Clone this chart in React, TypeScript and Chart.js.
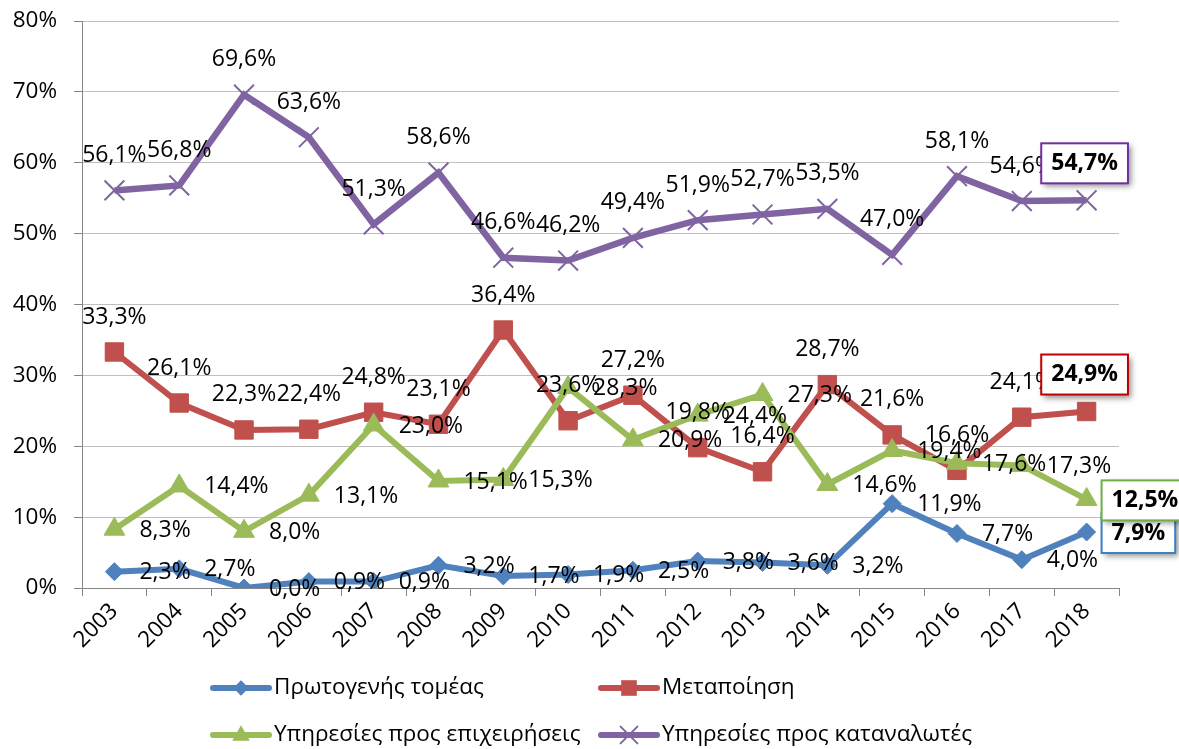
import React, { useEffect, useRef } from 'react';
import { Chart, registerables } from 'chart.js';

Chart.register(...registerables);

const years = ['2003', '2004', '2005', '2006', '2007', '2008', '2009', '2010', '2011', '2012', '2013', '2014', '2015', '2016', '2017', '2018'];
const primarySector = [2.3, 2.7, 0.0, 0.9, 0.9, 3.2, 1.7, 1.9, 2.5, 3.8, 3.6, 3.2, 11.9, 7.7, 4.0, 7.9];
const manufacturing = [33.3, 26.1, 22.3, 22.4, 24.8, 23.1, 36.4, 23.6, 27.2, 19.8, 16.4, 28.7, 21.6, 16.6, 24.1, 24.9];
const businessServices = [8.3, 14.4, 8.0, 13.1, 23.0, 15.1, 15.3, 28.3, 20.9, 24.4, 27.3, 14.6, 19.4, 17.6, 17.3, 12.5];
const consumerServices = [56.1, 56.8, 69.6, 63.6, 51.3, 58.6, 46.6, 46.2, 49.4, 51.9, 52.7, 53.5, 47.0, 58.1, 54.6, 54.7];
const seriesNames = ['Πρωτογενής τομέας', 'Μεταποίηση', 'Υπηρεσίες προς επιχειρήσεις', 'Υπηρεσίες προς καταναλωτές'];
const yMin = 0;
const yMax = 80;
const yStep = 10;

const FONT = '"Open Sans", "Noto Sans", sans-serif';
const colors = ['#4F81BD', '#C0504D', '#9BBB59', '#8064A2'];
const boxColors = ['#3F7FC6', '#C00000', '#70AD47', '#7030A0'];
const pointStyles = ['rectRot', 'rect', 'triangle', 'crossRot'];
const pointRadii = [9, 13, 12, 14];
const lineWidths = [6, 6, 6, 6.5];
const labelPlacement = ['right', 'above', 'right', 'above'];

const fmt = (v: number) => v.toFixed(1).replace('.', ',') + '%';

function drawMarker(ctx: CanvasRenderingContext2D, style: string, x: number, y: number, r: number, color: string) {
  ctx.save();
  ctx.fillStyle = color;
  ctx.strokeStyle = color;
  ctx.lineWidth = 1;
  ctx.beginPath();
  if (style === 'rectRot') {
    ctx.moveTo(x, y - r);
    ctx.lineTo(x + r, y);
    ctx.lineTo(x, y + r);
    ctx.lineTo(x - r, y);
    ctx.closePath();
    ctx.fill();
  } else if (style === 'rect') {
    const s = r * Math.SQRT1_2;
    ctx.rect(x - s, y - s, 2 * s, 2 * s);
    ctx.fill();
  } else if (style === 'triangle') {
    const h = 1.5 * r;
    const w = 1.732 * r;
    ctx.moveTo(x, y - h / 2 - 2);
    ctx.lineTo(x + w / 2, y + h / 2 - 2);
    ctx.lineTo(x - w / 2, y + h / 2 - 2);
    ctx.closePath();
    ctx.fill();
  } else {
    const d = r * Math.SQRT1_2;
    ctx.lineWidth = 2;
    ctx.moveTo(x - d, y - d);
    ctx.lineTo(x + d, y + d);
    ctx.moveTo(x + d, y - d);
    ctx.lineTo(x - d, y + d);
    ctx.stroke();
  }
  ctx.restore();
}

const valueLabelPlugin = {
  id: 'valueLabels',
  afterDatasetsDraw(chart: any) {
    const ctx: CanvasRenderingContext2D = chart.ctx;
    ctx.save();
    chart.data.datasets.forEach((ds: any, di: number) => {
      const meta = chart.getDatasetMeta(di);
      const n = ds.data.length;
      meta.data.forEach((pt: any, i: number) => {
        const text = fmt(ds.data[i]);
        const last = i === n - 1;
        ctx.font = (last ? 'bold ' : '') + '23px ' + FONT;
        const w = ctx.measureText(text).width;
        let cx: number;
        let cy: number;
        if (labelPlacement[di] === 'above') {
          cx = pt.x - (last ? 2 : 0);
          cy = pt.y - (last ? 37 : 35);
        } else {
          cx = pt.x + 25 + w / 2;
          cy = pt.y + 1;
        }
        if (last) {
          const bw = w + 20;
          const bh = 40;
          const bx = cx - bw / 2;
          const by = cy - bh / 2;
          ctx.save();
          ctx.shadowColor = 'rgba(0,0,0,0.45)';
          ctx.shadowBlur = 6;
          ctx.shadowOffsetX = 3;
          ctx.shadowOffsetY = 3;
          ctx.fillStyle = '#ffffff';
          ctx.fillRect(bx, by, bw, bh);
          ctx.restore();
          ctx.strokeStyle = boxColors[di];
          ctx.lineWidth = 2;
          ctx.strokeRect(bx, by, bw, bh);
        }
        ctx.fillStyle = '#000000';
        ctx.textAlign = 'center';
        ctx.textBaseline = 'middle';
        ctx.fillText(text, cx, cy);
      });
    });
    ctx.restore();
  },
};

const customLegendPlugin = {
  id: 'customLegend',
  afterDraw(chart: any) {
    const ctx: CanvasRenderingContext2D = chart.ctx;
    const area = chart.chartArea;
    const colX = [213, 601];
    const rowY = [area.bottom + 100, area.bottom + 147];
    ctx.save();
    chart.data.datasets.forEach((ds: any, di: number) => {
      const x = colX[di % 2];
      const y = rowY[Math.floor(di / 2)];
      ctx.strokeStyle = colors[di];
      ctx.lineWidth = 6;
      ctx.lineCap = 'round';
      ctx.beginPath();
      ctx.moveTo(x, y);
      ctx.lineTo(x + 56, y);
      ctx.stroke();
      drawMarker(ctx, pointStyles[di], x + 28, y, pointRadii[di] * 0.85, colors[di]);
      ctx.fillStyle = '#000000';
      ctx.font = '22.5px ' + FONT;
      ctx.textAlign = 'left';
      ctx.textBaseline = 'middle';
      ctx.fillText(ds.label, x + 61, y);
    });
    ctx.restore();
  },
};

export default function App() {
  const canvasRef = useRef<HTMLCanvasElement | null>(null);

  useEffect(() => {
    const canvas = canvasRef.current;
    if (!canvas) return;
    const seriesData = [primarySector, manufacturing, businessServices, consumerServices];
    const chart = new Chart(canvas, {
      type: 'line',
      data: {
        labels: years,
        datasets: seriesData.map((d, di) => ({
          label: seriesNames[di],
          data: d,
          borderColor: colors[di],
          backgroundColor: colors[di],
          borderWidth: lineWidths[di],
          pointStyle: pointStyles[di] as any,
          pointRadius: pointRadii[di],
          pointHoverRadius: pointRadii[di],
          pointBorderWidth: di === 3 ? 2 : 1,
          pointBorderColor: colors[di],
          pointBackgroundColor: colors[di],
          tension: 0,
          fill: false,
          order: 4 - di,
        })),
      },
      options: {
        responsive: false,
        animation: false,
        events: [],
        layout: { padding: { top: 21, right: 60, bottom: 71, left: 0 } },
        plugins: {
          legend: { display: false },
          tooltip: { enabled: false },
          title: { display: false },
        },
        scales: {
          x: {
            offset: true,
            grid: {
              display: true,
              offset: true,
              drawOnChartArea: false,
              drawTicks: true,
              tickLength: 8,
              tickColor: '#868686',
            },
            border: { display: true, color: '#868686', width: 1 },
            ticks: {
              color: '#000000',
              font: { family: FONT, size: 22.5 },
              minRotation: 45,
              maxRotation: 45,
              autoSkip: false,
              padding: 2,
            },
            afterFit(scale: any) {
              scale.height = 90;
              scale.paddingLeft = 0;
              scale.paddingRight = 0;
              scale.paddingTop = 0;
              scale.paddingBottom = 0;
            },
          },
          y: {
            min: yMin,
            max: yMax,
            grid: {
              color: '#BFBFBF',
              lineWidth: 1,
              drawTicks: true,
              tickLength: 8,
              tickColor: '#868686',
            },
            border: { display: true, color: '#868686', width: 1 },
            ticks: {
              stepSize: yStep,
              color: '#000000',
              font: { family: FONT, size: 22.5 },
              padding: 17,
              callback: (v: any) => `${v}%`,
            },
            afterFit(scale: any) {
              scale.width = 82;
              scale.paddingTop = 0;
              scale.paddingBottom = 0;
              scale.paddingLeft = 0;
              scale.paddingRight = 0;
            },
          },
        },
      },
      plugins: [valueLabelPlugin, customLegendPlugin],
    });
    return () => chart.destroy();
  }, []);

  return (
    <div style={{ position: 'absolute', left: 0, top: 0, width: 1179, height: 749, background: '#ffffff' }}>
      <canvas ref={canvasRef} width={1179} height={749} style={{ display: 'block' }} />
    </div>
  );
}
